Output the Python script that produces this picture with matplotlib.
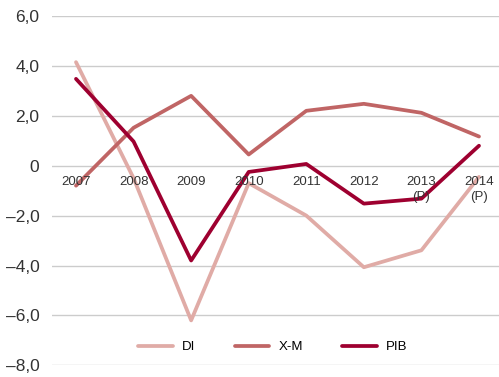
import matplotlib
matplotlib.use("Agg")
import matplotlib.pyplot as plt

plt.rcParams["font.family"] = ["Liberation Sans", "DejaVu Sans"]

years = ["2007", "2008", "2009", "2010", "2011", "2012", "2013", "2014"]
year_notes = ["", "", "", "", "", "", "(P)", "(P)"]
di = [4.15, -0.5, -6.2, -0.7, -2.0, -4.07, -3.39, -0.45]
xm = [-0.8, 1.52, 2.8, 0.45, 2.2, 2.48, 2.12, 1.17]
pib = [3.48, 0.97, -3.8, -0.25, 0.07, -1.52, -1.32, 0.8]
yticks = [6, 4, 2, 0, -2, -4, -6, -8]
ytick_labels = ["6,0", "4,0", "2,0", "0", "\u20132,0", "\u20134,0", "\u20136,0", "\u20138,0"]

fig = plt.figure(figsize=(4.99, 3.77), dpi=100)
ax = fig.add_axes([52 / 499, (377 - 365.3) / 377, 1 - 52 / 499, (365.3 - 16) / 377])

x = list(range(len(years)))
ax.plot(x, di, color="#e0aba6", lw=2.7, label="DI", clip_on=False, solid_capstyle="round")
ax.plot(x, xm, color="#c06565", lw=2.7, label="X-M", clip_on=False, solid_capstyle="round")
ax.plot(x, pib, color="#9e0030", lw=2.7, label="PIB", clip_on=False, solid_capstyle="round")

ax.set_ylim(-8, 6)
ax.set_xlim(-24 / 57.57, 7 + 20 / 57.57)
ax.set_yticks(yticks)
ax.set_yticklabels(ytick_labels, fontsize=12.5, color="#333333")
ax.tick_params(axis="y", length=0, pad=9)
ax.set_xticks([])
ax.grid(axis="y", color="#cccccc", lw=1)
ax.set_axisbelow(True)
for s in ax.spines.values():
    s.set_visible(False)

for i, (yr, note) in enumerate(zip(years, year_notes)):
    ax.text(i, -0.42, yr, ha="center", va="top", fontsize=9.5, color="#333333")
    if note:
        ax.text(i, -1.02, note, ha="center", va="top", fontsize=9.5, color="#333333")

ax.legend(loc="center", bbox_to_anchor=(0.494, 0.052), ncol=3, frameon=False,
          fontsize=9.5, handlelength=2.6, columnspacing=3.0, handletextpad=0.7)

fig.savefig("out.png", dpi=100)
